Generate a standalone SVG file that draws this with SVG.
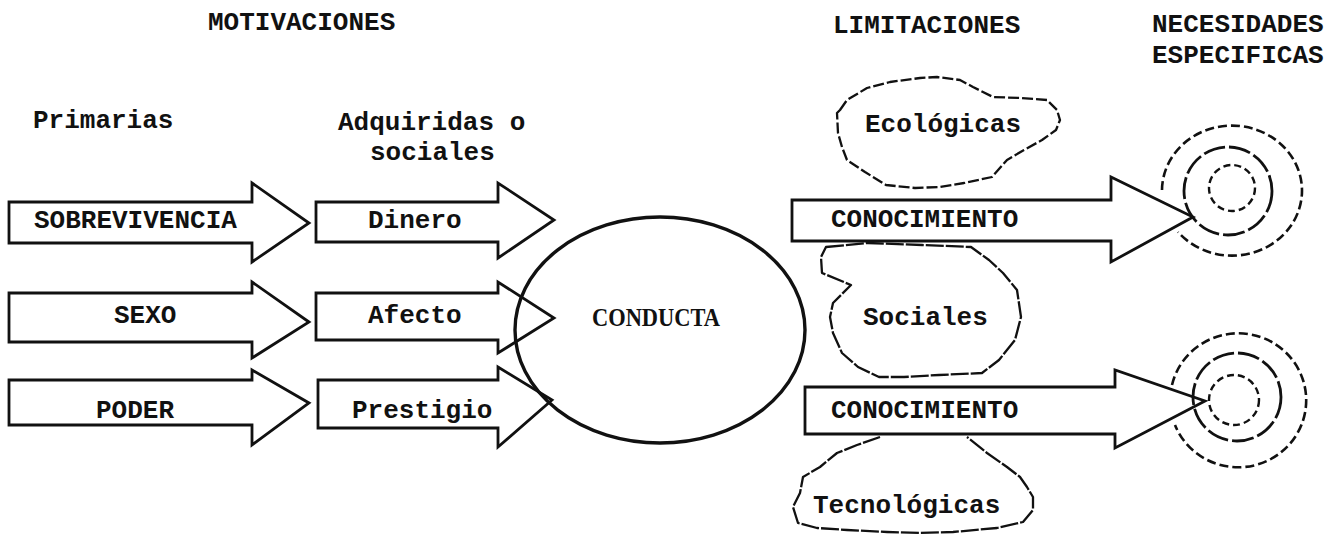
<svg xmlns="http://www.w3.org/2000/svg" width="1335" height="535" viewBox="0 0 1335 535">
<style>
.t{font-family:"Liberation Mono","Courier New",monospace;font-weight:bold;font-size:26px;fill:#111}
.c{font-family:"Liberation Serif","Times New Roman",serif;font-weight:bold;font-size:25px;fill:#111}
.ar{fill:none;stroke:#111;stroke-width:2.8;stroke-linejoin:miter}
.cl{fill:none;stroke:#111;stroke-width:2.3;stroke-linejoin:round;stroke-dasharray:11 3}
.cs{fill:none;stroke:#111;stroke-width:2.3;stroke-linejoin:round;stroke-dasharray:18 2}
.ro{fill:none;stroke:#111;stroke-width:2.6;stroke-dasharray:9 4}
.rm{fill:none;stroke:#111;stroke-width:2.8;stroke-dasharray:22 4}
.ri{fill:none;stroke:#111;stroke-width:2.4;stroke-dasharray:7 4}
</style>
<rect width="1335" height="535" fill="#fff"/>
<g id="headers">
<text class="t" x="208" y="30">MOTIVACIONES</text>
<text class="t" x="833" y="33">LIMITACIONES</text>
<text class="t" x="1152" y="32">NECESIDADES</text>
<text class="t" x="1152" y="63">ESPECIFICAS</text>
<text class="t" x="33" y="128">Primarias</text>
<text class="t" x="338" y="130">Adquiridas o</text>
<text class="t" x="370" y="160">sociales</text>
</g>
<g id="connectors">
<path id="a-sobrevivencia" class="ar" d="M9,202 H252 V183 L309,223 L252,262 V243 H9 Z"/>
<path id="a-sexo" class="ar" d="M9,293 H252 V282 L309,322 L252,358 V342 H9 Z"/>
<path id="a-poder" class="ar" d="M9,380 H252 V370 L309,403 L252,445 V425 H9 Z"/>
<path id="a-dinero" class="ar" d="M316,202 H498 V183 L554,220 L498,258 V242 H316 Z"/>
<path id="a-afecto" class="ar" d="M316,293 H498 V282 L554,318 L498,353 V340 H316 Z"/>
<path id="a-prestigio" class="ar" d="M318,380 H498 V367 L552,400 L498,447 V428 H318 Z"/>
<path id="a-con1" class="ar" d="M792,200 H1111 V177 L1193,217 L1111,262 V241 H792 Z"/>
<path id="a-con2" class="ar" d="M805,387 H1115 V370 L1205,401 L1115,448 V434 H805 Z"/>
</g>
<g id="n-sobrevivencia"><text class="t" x="34" y="228">SOBREVIVENCIA</text></g>
<g id="n-sexo"><text class="t" x="114" y="323">SEXO</text></g>
<g id="n-poder"><text class="t" x="96" y="418">PODER</text></g>
<g id="n-dinero"><text class="t" x="368" y="228">Dinero</text></g>
<g id="n-afecto"><text class="t" x="368" y="323">Afecto</text></g>
<g id="n-prestigio"><text class="t" x="352" y="418">Prestigio</text></g>
<g id="n-conducta">
<ellipse cx="660" cy="330" rx="145" ry="113" fill="none" stroke="#111" stroke-width="3.4"/>
<text class="c" x="592" y="326" textLength="128" lengthAdjust="spacingAndGlyphs">CONDUCTA</text>
</g>
<g id="n-conocimiento1"><text class="t" x="831" y="227">CONOCIMIENTO</text></g>
<g id="n-conocimiento2"><text class="t" x="831" y="418">CONOCIMIENTO</text></g>
<g id="n-ecologicas">
<path class="cl" d="M840,110 L847,100 L867,88 L890,82 L920,78 L937,77 L960,80 L973,87 L993,97 L1020,98 L1047,100 L1057,110 L1060,120 L1056,130 L1042,140 L1024,150 L1007,160 L992,177 L964,183 L939,187 L915,188 L886,185 L865,172 L847,160 L842,147 L838,133 L837,113 Z"/>
<text class="t" x="865" y="132">Ecológicas</text>
</g>
<g id="n-sociales">
<path class="cs" d="M826,247 L868,243 L922,245 L971,247 L989,260 L1003,273 L1017,290 L1021,317 L1015,340 L999,360 L982,373 L939,375 L904,377 L879,377 L858,367 L842,353 L833,333 L830,317 L833,303 L851,285 L822,273 L821,257 Z"/>
<text class="t" x="863" y="325">Sociales</text>
</g>
<g id="n-tecnologicas">
<path class="cs" d="M880,437 L857,445 L837,453 L820,467 L803,477 L800,493 L793,507 L798,523 L817,528 L847,530 L887,532 L920,533 L953,532 L997,528 L1023,522 L1033,510 L1033,497 L1027,487 L1020,477 L1007,467 L987,453 L967,437"/>
<text class="t" x="813" y="513">Tecnológicas</text>
</g>
<g id="n-necesidad1">
<path class="ro" d="M1162,190 A70,65 0 1 1 1178,232"/>
<circle class="rm" cx="1228" cy="191" r="44"/>
<circle class="ri" cx="1232" cy="188" r="23"/>
</g>
<g id="n-necesidad2">
<path class="ro" d="M1172,385 A68,67 0 1 1 1175,425"/>
<circle class="rm" cx="1237" cy="397" r="44"/>
<circle class="ri" cx="1234" cy="400" r="25"/>
</g>
</svg>
